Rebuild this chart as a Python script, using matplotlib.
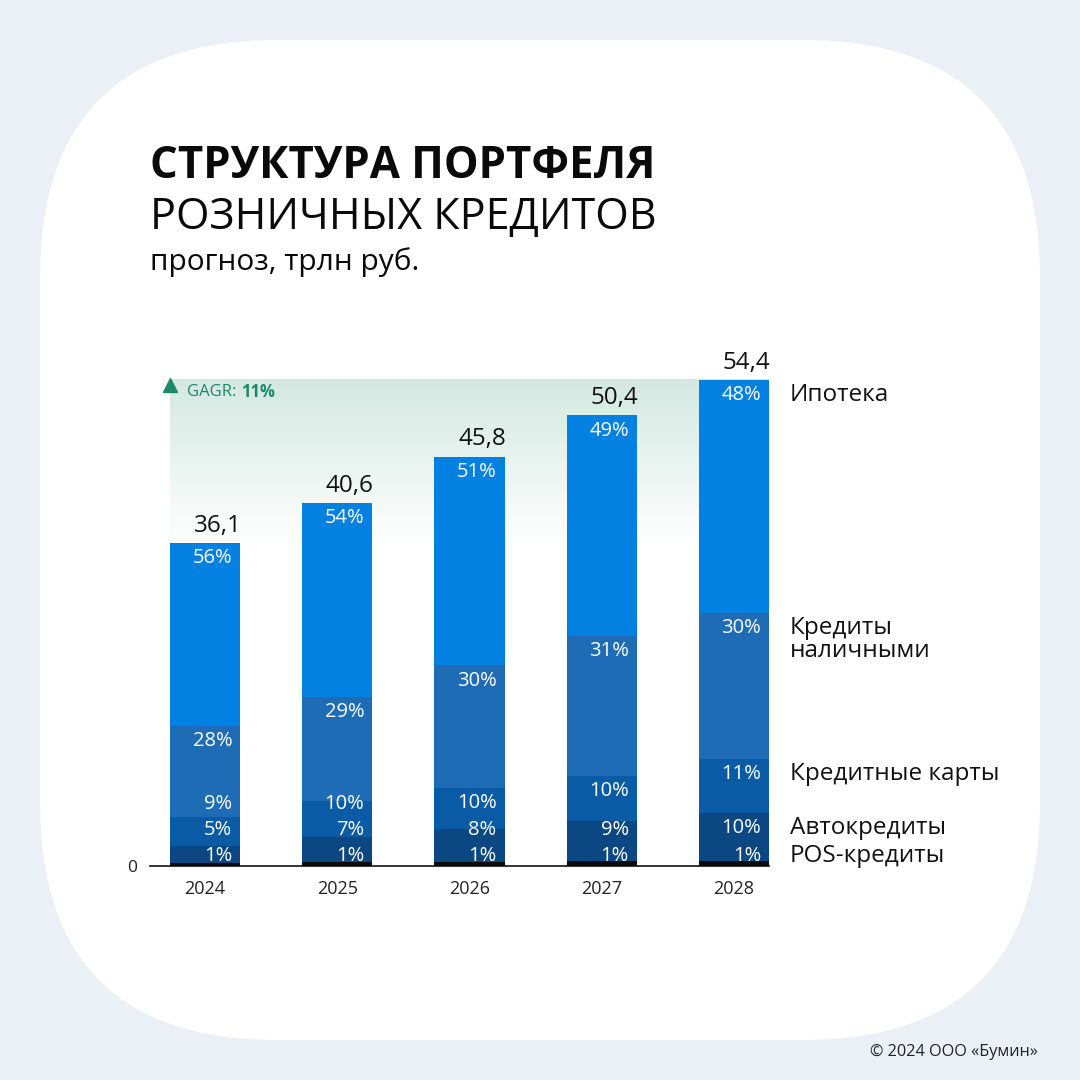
import numpy as np
import matplotlib
matplotlib.use("Agg")
import matplotlib.pyplot as plt
from matplotlib.patches import FancyBboxPatch
from matplotlib.colors import LinearSegmentedColormap

plt.rcParams['font.family'] = ['Open Sans', 'DejaVu Sans']

# данные
years = ['2024', '2025', '2026', '2027', '2028']
totals = [36.1, 40.6, 45.8, 50.4, 54.4]
total_labels = ['36,1', '40,6', '45,8', '50,4', '54,4']
# доли, снизу вверх
segments = ['POS-кредиты', 'Автокредиты', 'Кредитные карты', 'Кредиты\nналичными', 'Ипотека']
pos_share = [1, 1, 1, 1, 1]
auto_share = [5, 7, 8, 9, 10]
cards_share = [9, 10, 10, 10, 11]
cash_share = [28, 29, 30, 31, 30]
mortgage_share = [56, 54, 51, 49, 48]
colors = ['#0a0a0a', '#0b4782', '#0a5ba6', '#1e6cb6', '#0281e3']
gagr = '11%'

shares = np.array([pos_share, auto_share, cards_share, cash_share, mortgage_share], dtype=float)
values = shares / shares.sum(axis=0) * np.array(totals)

W, H = 1080, 1080
fig = plt.figure(figsize=(10.8, 10.8), dpi=100)
fig.patch.set_facecolor('#ebf0f7')

# белая карточка
card = FancyBboxPatch((40 / W, 40 / H), 1000 / W, 1000 / H,
                      boxstyle='round,pad=0,rounding_size=0.22',
                      transform=fig.transFigure, facecolor='white',
                      edgecolor='none', zorder=-1)
fig.patches.append(card)

# оси
scale = 8.94  # px на единицу
step = 132
bw = 70 / step
x_left, x_right = 150, 769
y0, y_top = 866, 340
ax = fig.add_axes([x_left / W, (H - y0) / H, (x_right - x_left) / W, (y0 - y_top) / H])
ax.set_zorder(2)
ax.set_facecolor('none')
x = np.arange(len(years))
ax.set_xlim(-55 / step, 4 + 35 / step)
ax.set_ylim(0, (y0 - y_top) / scale)

# градиент CAGR
grad = np.linspace(1, 0, 256).reshape(-1, 1)
cmap = LinearSegmentedColormap.from_list('g', ['#ffffff', '#d3e8e1'])
ax.imshow(grad, extent=[x[0] - bw / 2, x[-1] + bw / 2, totals[0], totals[-1]],
          aspect='auto', cmap=cmap, zorder=1, interpolation='bicubic')
ax.plot(x[0] - bw / 2, totals[-1] - 0.6, marker='^', color='#1b8a68',
        markersize=10, zorder=4, clip_on=False)
t = ax.text(x[0] - bw / 2 + 0.13, totals[-1] - 1.4, 'GAGR: ', color='#1b8a68',
            fontsize=12, va='center', ha='left', zorder=4)
fig.canvas.draw()
bb = t.get_window_extent().transformed(ax.transData.inverted())
ax.text(bb.x1, totals[-1] - 1.4, gagr, color='#1b8a68', fontsize=12,
        fontweight='bold', va='center', ha='left', zorder=4)

# столбцы
bottom = np.zeros(len(years))
for i in range(len(segments)):
    ax.bar(x, values[i], bw, bottom=bottom, color=colors[i], zorder=3)
    bottom += values[i]

# подписи долей
off = 1.7
gap = 2.9
label_y = np.zeros_like(values)
for j in range(len(years)):
    tops = np.cumsum(values[:, j])
    prev = 1.1 - gap
    for i in range(len(segments)):
        yy = max(tops[i] - off, prev + gap)
        label_y[i, j] = yy
        prev = yy
        ax.text(x[j] + bw / 2 - 8 / step, yy, f'{int(shares[i, j])}%', color='white',
                fontsize=14.5, ha='right', va='center', zorder=5)

# итоги
for j in range(len(years)):
    ax.annotate(total_labels[j], (x[j] + bw / 2, totals[j]), xytext=(1, 8),
                textcoords='offset points', ha='right', va='baseline',
                fontsize=17.5, color='#111111', zorder=5)

# названия сегментов справа
for i, name in enumerate(segments):
    lines = name.split('\n')
    for k, ln in enumerate(lines):
        ax.annotate(ln, (4 + (790 - 734) / step, label_y[i, -1]), xytext=(0, -16.5 * k),
                    textcoords='offset points', ha='left', va='center',
                    fontsize=17.5, color='#111111', annotation_clip=False)

for s in ['top', 'right', 'left']:
    ax.spines[s].set_visible(False)
ax.spines['bottom'].set_color('#111111')
ax.spines['bottom'].set_linewidth(1.2)
ax.spines['bottom'].set_zorder(2)
ax.set_xticks(x)
ax.set_xticklabels(years, fontsize=13, color='#222222')
ax.set_yticks([0])
ax.set_yticklabels(['0'], fontsize=12.5, color='#222222')
ax.tick_params(axis='x', length=0, pad=10)
ax.tick_params(axis='y', length=0, pad=9)

# заголовок
fig.text(150 / W, 1 - 178 / H, 'СТРУКТУРА ПОРТФЕЛЯ', fontsize=31.5, fontweight='bold',
         color='#0a0a0a', va='baseline')
fig.text(150 / W, 1 - 229 / H, 'РОЗНИЧНЫХ КРЕДИТОВ', fontsize=31,
         color='#0a0a0a', va='baseline')
fig.text(150 / W, 1 - 270 / H, 'прогноз, трлн руб.', fontsize=21.5,
         color='#0a0a0a', va='baseline')
fig.text(1038 / W, 1 - 1052 / H, '© 2024 ООО «Бумин»', fontsize=11.7,
         color='#222222', ha='right', va='center')

fig.savefig('out.png', dpi=100, facecolor=fig.get_facecolor())
